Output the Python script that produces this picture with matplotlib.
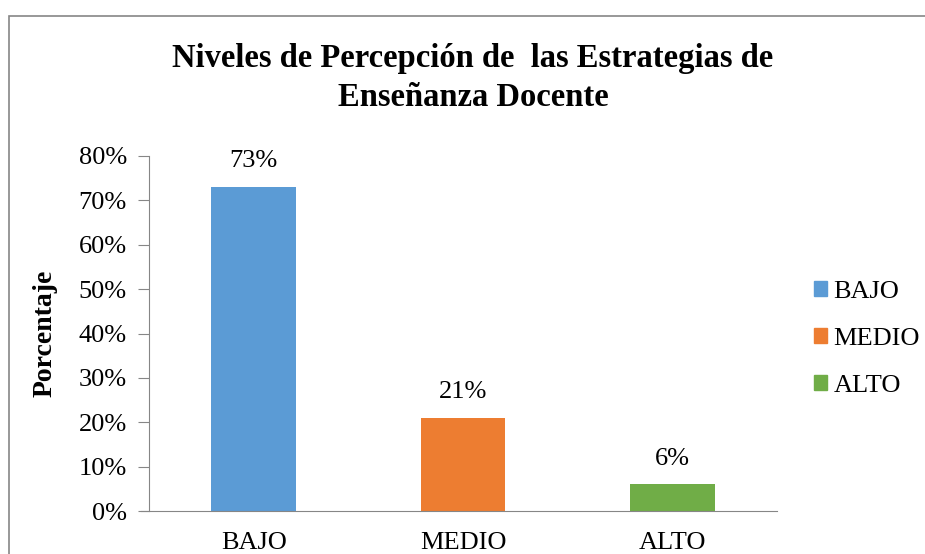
import matplotlib.pyplot as plt
import matplotlib.patches as mpatches
from matplotlib.ticker import PercentFormatter

# datos
niveles = ["BAJO", "MEDIO", "ALTO"]
porcentajes = [73, 21, 6]
colores = ["#5B9BD5", "#ED7D31", "#70AD47"]
y_ticks = [0, 10, 20, 30, 40, 50, 60, 70, 80]

plt.rcParams['font.family'] = ['Liberation Serif', 'DejaVu Serif']

fig = plt.figure(figsize=(9.25, 5.54), dpi=100)
# marco del grafico
fig.patches.append(mpatches.Rectangle((9/925, -0.05), 1.0, 1 - 16/554 + 0.05,
                                      transform=fig.transFigure, fill=False,
                                      edgecolor="#868686", linewidth=1.2))

ax = fig.add_axes([149/925, 43/554, 628/925, 355/554])
x = range(len(niveles))
bars = ax.bar(x, porcentajes, width=0.405, color=colores)
for b, v in zip(bars, porcentajes):
    ax.text(b.get_x() + b.get_width()/2, v + 3.3, f"{v}%", ha="center", va="bottom", fontsize=19)

ax.set_xlim(-0.5, 2.5)
ax.set_ylim(0, 80)
ax.set_yticks(y_ticks)
ax.yaxis.set_major_formatter(PercentFormatter(decimals=0))
ax.set_xticks(list(x))
ax.set_xticklabels(niveles, fontsize=19)
ax.tick_params(axis="x", length=0, pad=15)
ax.tick_params(axis="y", labelsize=19, length=8, color="#868686", pad=8)
for s in ["top", "right"]:
    ax.spines[s].set_visible(False)
ax.spines["left"].set_color("#868686")
ax.spines["bottom"].set_color("#868686")
ax.spines["bottom"].set_bounds(-0.5 - 8/209.5, 2.5)
ax.set_ylabel("Porcentaje", fontsize=20, fontweight="bold", labelpad=15)

fig.text(473/925, 1 - 78/554, "Niveles de Percepción de  las Estrategias de\nEnseñanza Docente",
         ha="center", va="center", fontsize=23.5, fontweight="bold", linespacing=1.3)

handles = [mpatches.Patch(color=c, label=n) for c, n in zip(colores, niveles)]
fig.legend(handles=handles, loc="center left", bbox_to_anchor=(790/925, 1 - 339/554),
           frameon=False, fontsize=19, handlelength=0.5, handleheight=0.5,
           handletextpad=0.25, labelspacing=0.95)

fig.savefig("out.png", dpi=100)
